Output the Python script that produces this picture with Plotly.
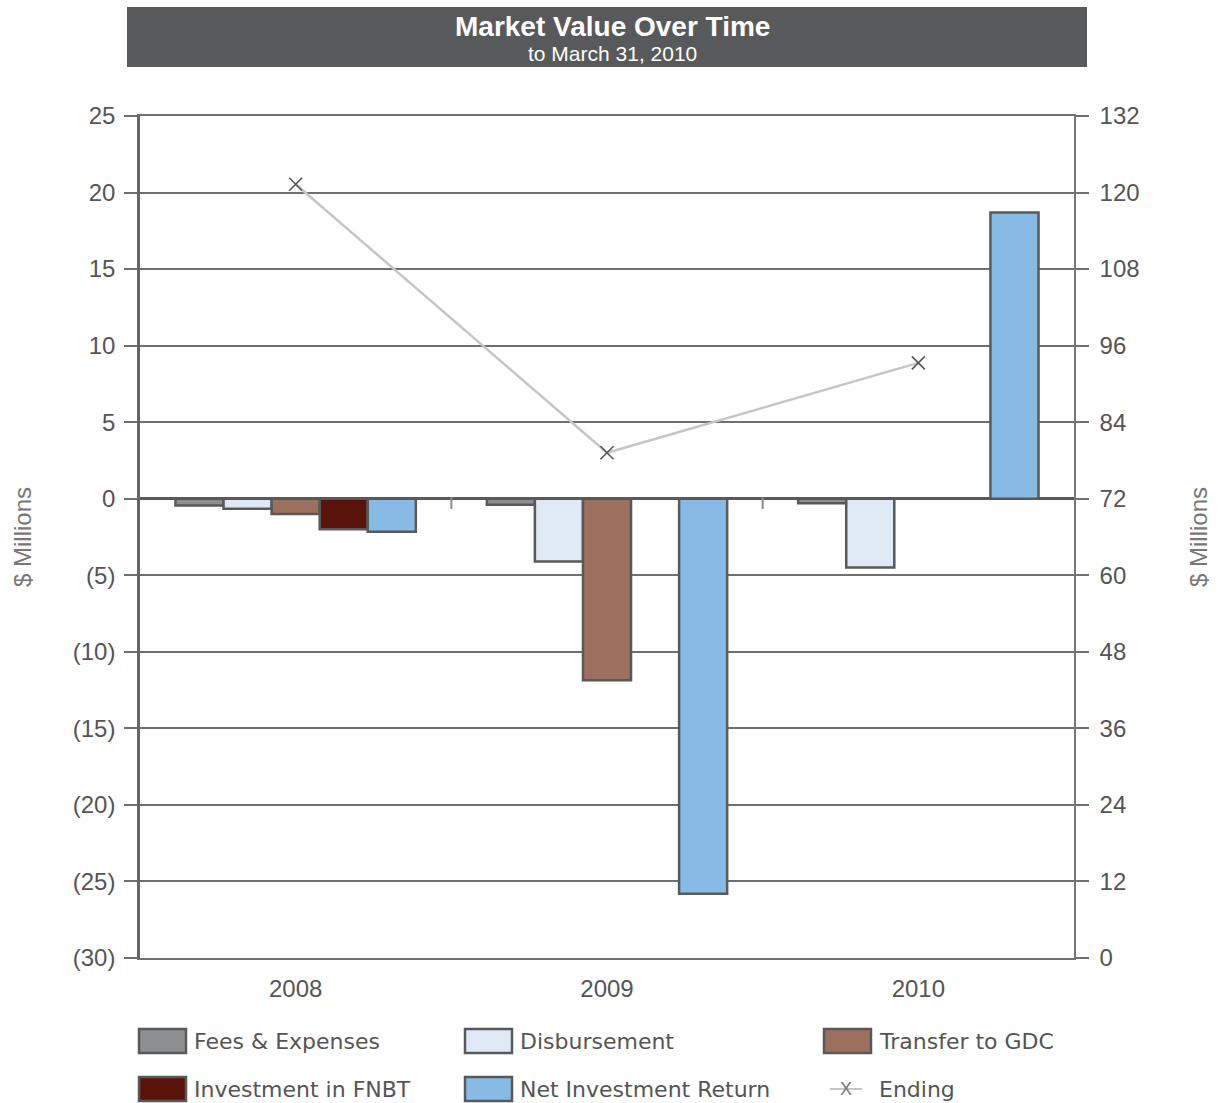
import plotly.graph_objects as go

years = ["2008", "2009", "2010"]
fees = [-0.45, -0.4, -0.3]
disbursement = [-0.65, -4.1, -4.5]
transfer_gdc = [-1.0, -11.85, None]
invest_fnbt = [-2.0, None, None]
net_return = [-2.15, -25.8, 18.7]
ending = [121.3, 79.2, 93.3]

left_tickvals = [25, 20, 15, 10, 5, 0, -5, -10, -15, -20, -25, -30]
left_ticktext = ["25", "20", "15", "10", "5", "0", "(5)", "(10)", "(15)", "(20)", "(25)", "(30)"]
right_tickvals = [0, 12, 24, 36, 48, 60, 72, 84, 96, 108, 120, 132]

bar_series = [
    ("Fees & Expenses", fees, "#8e8f91"),
    ("Disbursement", disbursement, "#dfe9f6"),
    ("Transfer to GDC", transfer_gdc, "#9d6f5e"),
    ("Investment in FNBT", invest_fnbt, "#5a130b"),
    ("Net Investment Return", net_return, "#87bbe5"),
]

W, H = 1224, 1103
PL, PR, PT, PB = 140, 1074, 116, 958
FONT = "Liberation Sans, Arial, sans-serif"
LFONT = "DejaVu Sans, Verdana, sans-serif"
TXT = "#555555"


def px(x):
    return (x - PL) / (PR - PL)


def py(y):
    return (PB - y) / (PB - PT)


fig = go.Figure()
for name, vals, col in bar_series:
    fig.add_trace(go.Bar(
        x=years, y=vals, name=name,
        marker=dict(color=col, line=dict(color="#595959", width=2.5)),
        showlegend=False,
    ))

fig.add_trace(go.Scatter(
    x=years, y=ending, name="Ending", yaxis="y2", mode="lines+markers",
    line=dict(color="#c6c6c6", width=2.5),
    marker=dict(symbol="x-thin-open", size=13, color="#555555",
                line=dict(color="#555555", width=1.6)),
    showlegend=False,
))

shapes = []
annotations = []

# title banner
shapes.append(dict(type="rect", xref="paper", yref="paper",
                   x0=px(127), x1=px(1087), y0=py(67), y1=py(7),
                   fillcolor="#58595b", line=dict(width=0), layer="below"))
annotations.append(dict(xref="paper", yref="paper", x=px(612), y=py(27),
                        text="Market Value Over Time", showarrow=False,
                        font=dict(family="Liberation Sans, Arial, sans-serif", size=28, color="white", weight=600),
                        xanchor="center", yanchor="middle"))
annotations.append(dict(xref="paper", yref="paper", x=px(612), y=py(53),
                        text="to March 31, 2010", showarrow=False,
                        font=dict(family=FONT, size=21, color="white"),
                        xanchor="center", yanchor="middle"))

# axis titles
annotations.append(dict(xref="paper", yref="paper", x=px(22), y=py(537),
                        text="$ Millions", showarrow=False, textangle=-90,
                        font=dict(family=FONT, size=24, color="#777777"),
                        xanchor="center", yanchor="middle"))
annotations.append(dict(xref="paper", yref="paper", x=px(1198), y=py(537),
                        text="$ Millions", showarrow=False, textangle=-90,
                        font=dict(family=FONT, size=24, color="#777777"),
                        xanchor="center", yanchor="middle"))

# category boundary ticks on zero line
for b in [0.5, 1.5]:
    shapes.append(dict(type="line", xref="x", yref="paper", x0=b, x1=b,
                       y0=py(497), y1=py(509), line=dict(color="#8a8a8a", width=2)))

# manual legend
legend_items = [
    ("Fees & Expenses", "#8e8f91", 139, 1041),
    ("Disbursement", "#dfe9f6", 465, 1041),
    ("Transfer to GDC", "#9d6f5e", 824, 1041),
    ("Investment in FNBT", "#5a130b", 139, 1089),
    ("Net Investment Return", "#87bbe5", 465, 1089),
]
for name, col, x0, yc in legend_items:
    shapes.append(dict(type="rect", xref="paper", yref="paper",
                       x0=px(x0), x1=px(x0 + 47), y0=py(yc + 12), y1=py(yc - 12),
                       fillcolor=col, line=dict(color="#595959", width=2.5)))
    annotations.append(dict(xref="paper", yref="paper", x=px(x0 + 53), y=py(yc),
                            text=name, showarrow=False, xanchor="left", yanchor="middle",
                            font=dict(family=LFONT, size=22, color=TXT)))
# Ending legend entry
shapes.append(dict(type="line", xref="paper", yref="paper",
                   x0=px(830), x1=px(862), y0=py(1089), y1=py(1089),
                   line=dict(color="#c6c6c6", width=2)))
annotations.append(dict(xref="paper", yref="paper", x=px(846), y=py(1089),
                        text="X", showarrow=False, xanchor="center", yanchor="middle",
                        font=dict(family=FONT, size=18, color="#777777")))
annotations.append(dict(xref="paper", yref="paper", x=px(877), y=py(1089),
                        text="Ending", showarrow=False, xanchor="left", yanchor="middle",
                        font=dict(family=LFONT, size=22, color=TXT)))

fig.update_layout(
    width=W, height=H,
    margin=dict(l=PL, r=W - PR, t=PT, b=H - PB, pad=0),
    paper_bgcolor="white", plot_bgcolor="white",
    barmode="group", bargap=0.228, bargroupgap=0,
    font=dict(family=FONT, size=24, color=TXT),
    xaxis=dict(type="category", showgrid=False, showline=True, mirror=True,
               linecolor="#707070", linewidth=1.5, ticks="",
               tickfont=dict(size=24, color=TXT), zeroline=False,
               ticklabelstandoff=8),
    yaxis=dict(range=[-30, 25], tickvals=left_tickvals, ticktext=left_ticktext,
               showgrid=True, gridcolor="#707070", gridwidth=1.5,
               zeroline=True, zerolinecolor="#5a5a5a", zerolinewidth=3,
               showline=True, linecolor="#666666", linewidth=2.5,
               ticks="outside", ticklen=13, tickcolor="#707070", tickwidth=1.5,
               tickfont=dict(size=24, color=TXT), ticklabelstandoff=4),
    yaxis2=dict(range=[0, 132], tickvals=right_tickvals, overlaying="y", side="right",
                showgrid=False, zeroline=False,
                showline=True, linecolor="#777777", linewidth=1.5,
                ticks="outside", ticklen=13, tickcolor="#707070", tickwidth=1.5,
                tickfont=dict(size=24, color=TXT), ticklabelstandoff=6),
    shapes=shapes, annotations=annotations,
)

fig.write_html("out.html")
